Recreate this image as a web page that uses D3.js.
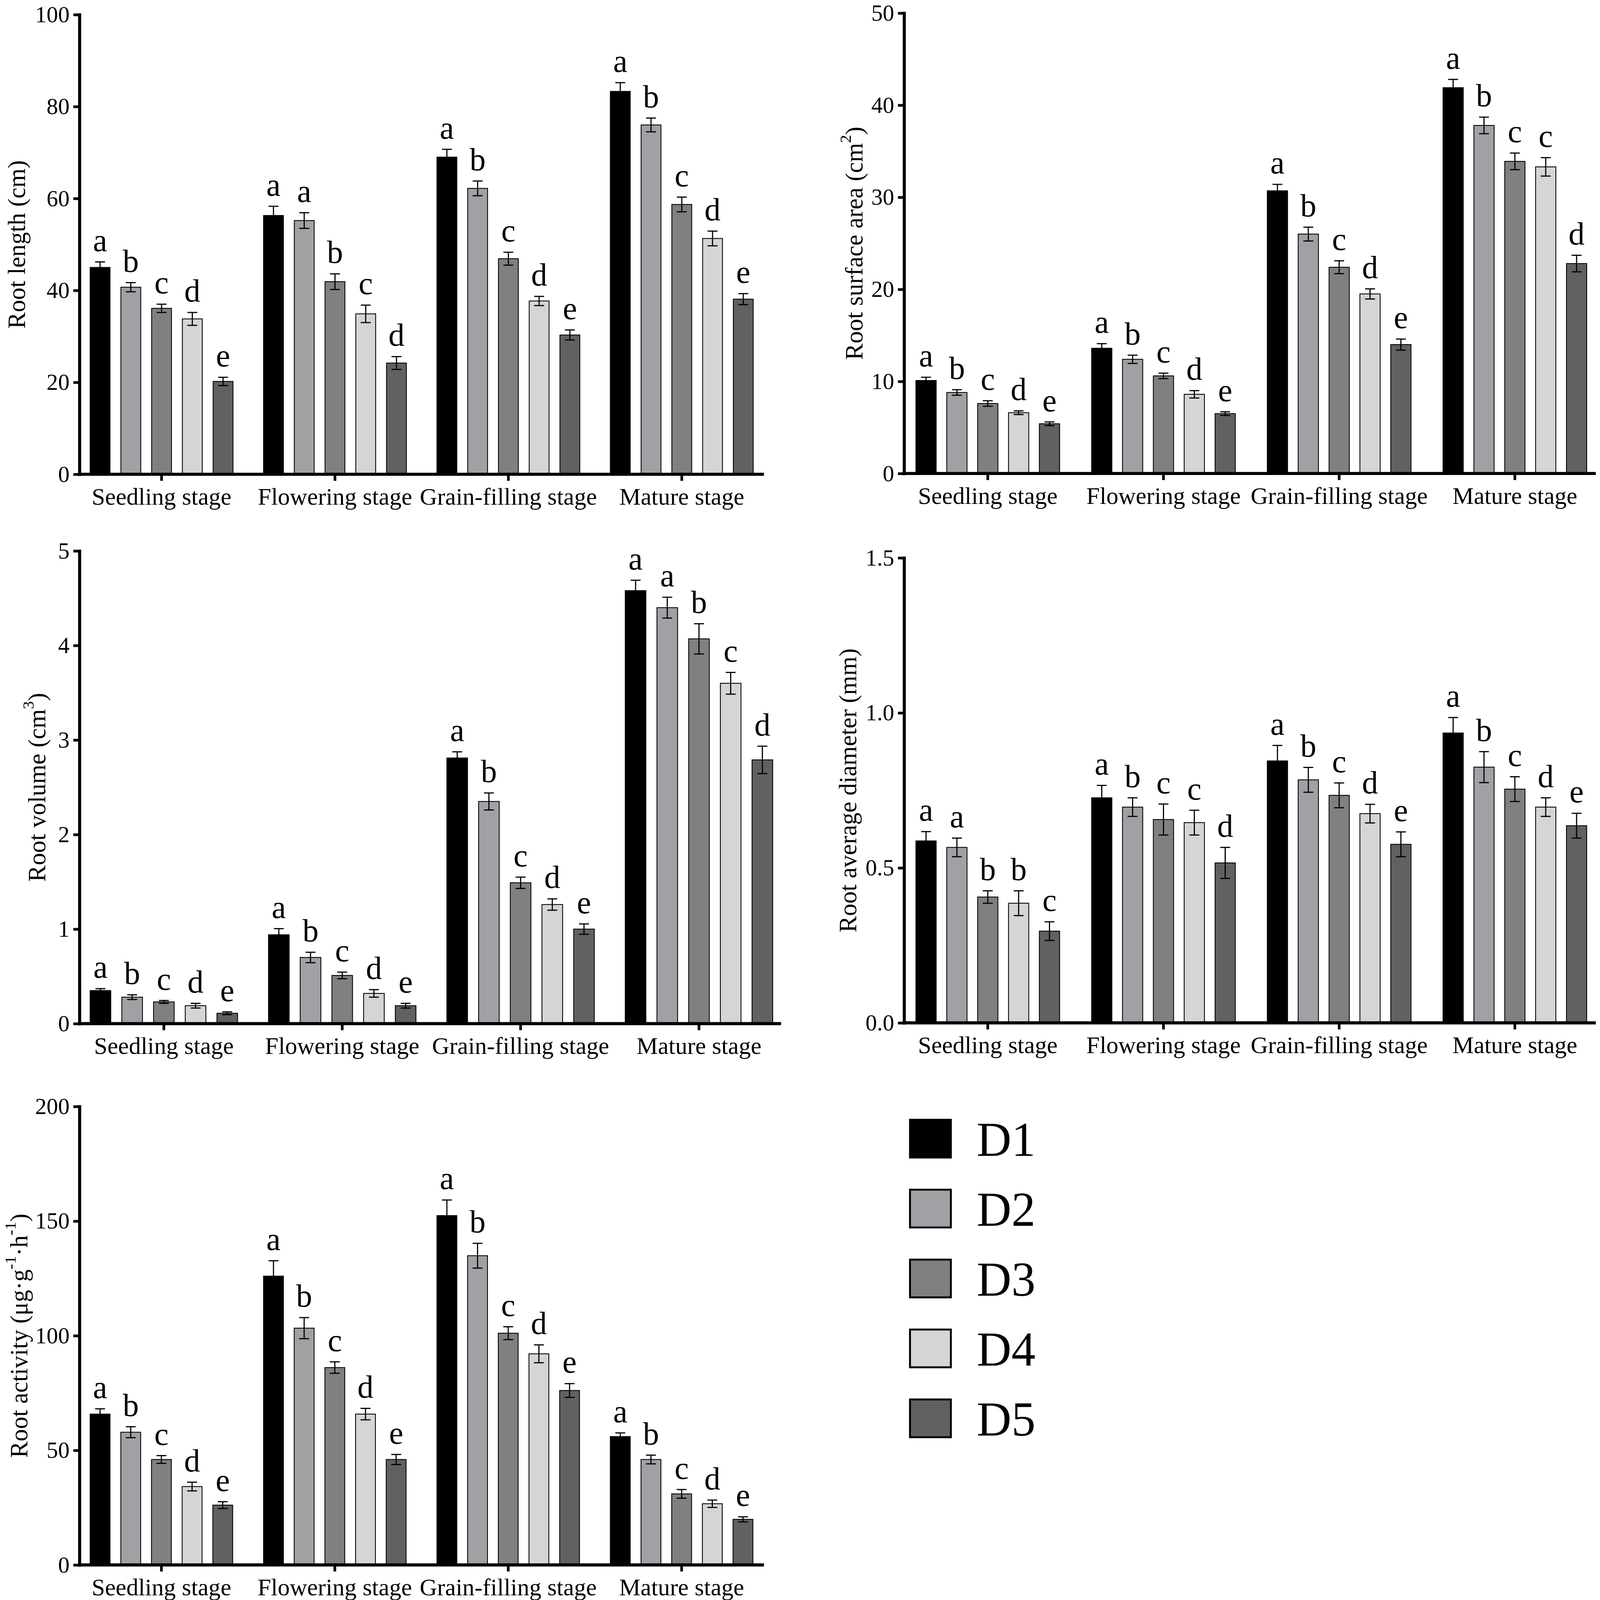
<!DOCTYPE html>
<html>
<head>
<meta charset="utf-8">
<script src="https://cdn.jsdelivr.net/npm/d3@7"></script>
<style>
  html, body { margin: 0; padding: 0; background: #fff; overflow: hidden; }
  svg { display: block; width: 100vw; height: 100vh; font-family: "Liberation Serif", "Times New Roman", serif; }
</style>
</head>
<body>
<svg id="chart" viewBox="0 0 4189 4153" preserveAspectRatio="none"></svg>
<script>
const stages = ["Seedling stage", "Flowering stage", "Grain-filling stage", "Mature stage"];
const series = ["D1", "D2", "D3", "D4", "D5"];
const colors = ["#000000", "#a1a1a5", "#808080", "#d5d5d5", "#616161"];

// one row per stage, one value per treatment D1..D5
const lengthMean = [[45.0, 40.7, 36.1, 33.8, 20.2], [56.3, 55.2, 41.9, 34.9, 24.2], [69.0, 62.2, 46.9, 37.7, 30.3], [83.3, 76.0, 58.7, 51.3, 38.1]];
const lengthErr = [[1.2, 1.0, 0.9, 1.4, 0.9], [2.0, 1.7, 1.7, 1.9, 1.4], [1.7, 1.6, 1.4, 1.0, 1.1], [1.9, 1.5, 1.6, 1.6, 1.2]];
const lengthLetters = [["a", "b", "c", "d", "e"], ["a", "a", "b", "c", "d"], ["a", "b", "c", "d", "e"], ["a", "b", "c", "d", "e"]];

const areaMean = [[10.1, 8.8, 7.6, 6.6, 5.4], [13.6, 12.4, 10.6, 8.6, 6.5], [30.7, 26.0, 22.4, 19.5, 14.0], [41.9, 37.8, 33.9, 33.3, 22.8]];
const areaErr = [[0.35, 0.3, 0.3, 0.2, 0.2], [0.5, 0.45, 0.3, 0.4, 0.2], [0.7, 0.75, 0.7, 0.55, 0.6], [0.9, 0.9, 0.9, 1.0, 0.9]];
const areaLetters = [["a", "b", "c", "d", "e"], ["a", "b", "c", "d", "e"], ["a", "b", "c", "d", "e"], ["a", "b", "c", "c", "d"]];

const volumeMean = [[0.35, 0.28, 0.23, 0.19, 0.11], [0.94, 0.70, 0.51, 0.32, 0.19], [2.81, 2.35, 1.49, 1.26, 1.00], [4.58, 4.40, 4.07, 3.60, 2.79]];
const volumeErr = [[0.02, 0.025, 0.015, 0.025, 0.015], [0.065, 0.055, 0.035, 0.04, 0.025], [0.065, 0.09, 0.06, 0.06, 0.055], [0.11, 0.11, 0.16, 0.115, 0.145]];
const volumeLetters = [["a", "b", "c", "d", "e"], ["a", "b", "c", "d", "e"], ["a", "b", "c", "d", "e"], ["a", "a", "b", "c", "d"]];

const diameterMean = [[0.587, 0.566, 0.406, 0.386, 0.296], [0.726, 0.696, 0.656, 0.646, 0.516], [0.845, 0.784, 0.734, 0.675, 0.576], [0.935, 0.825, 0.754, 0.696, 0.636]];
const diameterErr = [[0.03, 0.03, 0.02, 0.04, 0.03], [0.04, 0.03, 0.05, 0.04, 0.05], [0.05, 0.04, 0.04, 0.03, 0.04], [0.05, 0.05, 0.04, 0.03, 0.04]];
const diameterLetters = [["a", "a", "b", "b", "c"], ["a", "b", "c", "c", "d"], ["a", "b", "c", "d", "e"], ["a", "b", "c", "d", "e"]];

const activityMean = [[65.8, 57.9, 46.0, 34.2, 26.1], [126.0, 103.3, 86.1, 65.8, 46.0], [152.4, 134.9, 101.1, 92.1, 76.1], [56.0, 46.0, 31.0, 26.7, 19.9]];
const activityErr = [[2.3, 2.4, 1.7, 1.9, 1.5], [6.7, 4.6, 2.5, 2.5, 2.2], [6.8, 5.4, 2.8, 3.9, 3.0], [1.6, 1.9, 1.9, 1.6, 1.1]];
const activityLetters = [["a", "b", "c", "d", "e"], ["a", "b", "c", "d", "e"], ["a", "b", "c", "d", "e"], ["a", "b", "c", "d", "e"]];

const svg = d3.select("#chart");

const panels = [
  { mean: lengthMean, err: lengthErr, letters: lengthLetters, max: 100, ticks: [0, 20, 40, 60, 80, 100], fmt: d3.format("d"),
    label: [["Root length (cm)"]],
    ax: 208, ae: 2000, top: 38, base: 1231, x0: 236, gstep: 454, bstep: 80.5, bw: 52, lx: 44 },
  { mean: areaMean, err: areaErr, letters: areaLetters, max: 50, ticks: [0, 10, 20, 30, 40, 50], fmt: d3.format("d"),
    label: [["Root surface area (cm"], ["2", "sup"], [")"]],
    ax: 2367, ae: 4178, top: 34, base: 1229, x0: 2398, gstep: 460, bstep: 80.8, bw: 53, lx: 2237 },
  { mean: volumeMean, err: volumeErr, letters: volumeLetters, max: 5, ticks: [0, 1, 2, 3, 4, 5], fmt: d3.format("d"),
    label: [["Root volume (cm"], ["3", "sup"], [")"]],
    ax: 208, ae: 2045, top: 1430, base: 2657, x0: 236, gstep: 467, bstep: 83, bw: 54, lx: 97 },
  { mean: diameterMean, err: diameterErr, letters: diameterLetters, max: 1.5, ticks: [0, 0.5, 1.0, 1.5], fmt: d3.format(".1f"),
    label: [["Root average diameter (mm)"]],
    ax: 2367, ae: 4178, top: 1448, base: 2655, x0: 2398, gstep: 460, bstep: 80.8, bw: 53, lx: 2220 },
  { mean: activityMean, err: activityErr, letters: activityLetters, max: 200, ticks: [0, 50, 100, 150, 200], fmt: d3.format("d"),
    label: [["Root activity (μg·g"], ["-1", "sup"], ["·h"], ["-1", "sup"], [")"]],
    ax: 208, ae: 2000, top: 2872, base: 4062, x0: 236, gstep: 454, bstep: 80.3, bw: 52, lx: 50 }
];

panels.forEach(p => {
  const g = svg.append("g");
  const y = d3.scaleLinear().domain([0, p.max]).range([p.base, p.top]);

  const groupW = 4 * p.bstep + p.bw;
  const pi = 1 - groupW / p.gstep;
  const r0 = p.x0 - p.gstep * pi / 2;
  const x = d3.scaleBand().domain(stages).range([r0, r0 + 4 * p.gstep]).paddingInner(pi).paddingOuter(pi / 2);
  const xi = d3.scaleBand().domain(series).range([0, groupW]).paddingInner(1 - p.bw / p.bstep).paddingOuter(0);

  const cells = [];
  stages.forEach((s, i) => series.forEach((d, j) => cells.push({
    stage: s, key: d, j, v: p.mean[i][j], e: p.err[i][j], l: p.letters[i][j]
  })));

  const bx = d => x(d.stage) + xi(d.key);

  g.selectAll("rect.bar").data(cells).join("rect")
    .attr("class", "bar")
    .attr("x", bx)
    .attr("y", d => y(d.v))
    .attr("width", xi.bandwidth())
    .attr("height", d => y(0) - y(d.v))
    .attr("fill", d => colors[d.j])
    .attr("stroke", "#000")
    .attr("stroke-width", 2.2);

  const eb = g.selectAll("g.err").data(cells).join("g").attr("class", "err")
    .attr("stroke", "#000").attr("stroke-width", 3);
  const cx = d => bx(d) + xi.bandwidth() / 2;
  eb.append("line").attr("x1", cx).attr("x2", cx)
    .attr("y1", d => y(d.v - d.e)).attr("y2", d => y(d.v + d.e));
  eb.append("line").attr("x1", d => cx(d) - 13).attr("x2", d => cx(d) + 13)
    .attr("y1", d => y(d.v + d.e)).attr("y2", d => y(d.v + d.e));
  eb.append("line").attr("x1", d => cx(d) - 13).attr("x2", d => cx(d) + 13)
    .attr("y1", d => y(d.v - d.e)).attr("y2", d => y(d.v - d.e));

  g.selectAll("text.sig").data(cells).join("text")
    .attr("class", "sig")
    .attr("x", cx)
    .attr("y", d => y(d.v + d.e) - 28)
    .attr("text-anchor", "middle")
    .attr("font-size", 84)
    .text(d => d.l);

  // y axis
  const ya = g.append("g").attr("transform", `translate(${p.ax},0)`)
    .call(d3.axisLeft(y).tickValues(p.ticks).tickFormat(p.fmt).tickSize(16).tickSizeOuter(0).tickPadding(10));
  ya.select(".domain").attr("stroke-width", 8).attr("stroke-linecap", "square");
  ya.selectAll(".tick line").attr("stroke-width", 7);
  ya.selectAll(".tick text").attr("font-size", 60).attr("font-family", "Liberation Serif, Times New Roman, serif");

  // x axis
  const xa = g.append("g").attr("transform", `translate(0,${y(0)})`)
    .call(d3.axisBottom(x).tickSize(17).tickPadding(17));
  xa.select(".domain").remove();
  xa.append("line").attr("x1", p.ax - 4).attr("x2", p.ae).attr("stroke", "#000").attr("stroke-width", 8);
  xa.selectAll(".tick line").attr("stroke-width", 7);
  xa.selectAll(".tick text").attr("font-size", 63).attr("font-family", "Liberation Serif, Times New Roman, serif");

  // y label
  const lab = g.append("text")
    .attr("transform", `translate(${p.lx},${(p.top + p.base) / 2}) rotate(-90)`)
    .attr("text-anchor", "middle")
    .attr("dominant-baseline", "central")
    .attr("font-size", 64);
  p.label.forEach(([t, k]) => {
    const ts = lab.append("tspan").text(t);
    if (k === "sup") ts.attr("font-size", 42).attr("baseline-shift", "super");
  });
});

// legend
const legY = d3.scalePoint().domain(series).range([2904, 2904 + 4 * 181.5]);
const leg = svg.append("g").selectAll("g").data(series).join("g")
  .attr("transform", d => `translate(2380,${legY(d)})`);
leg.append("rect")
  .attr("x", 2.5).attr("y", 2.5).attr("width", 107).attr("height", 98)
  .attr("fill", (d, i) => colors[i])
  .attr("stroke", "#000").attr("stroke-width", 5);
leg.append("text")
  .attr("x", 177).attr("y", 96)
  .attr("font-size", 126)
  .text(d => d);
</script>
</body>
</html>
